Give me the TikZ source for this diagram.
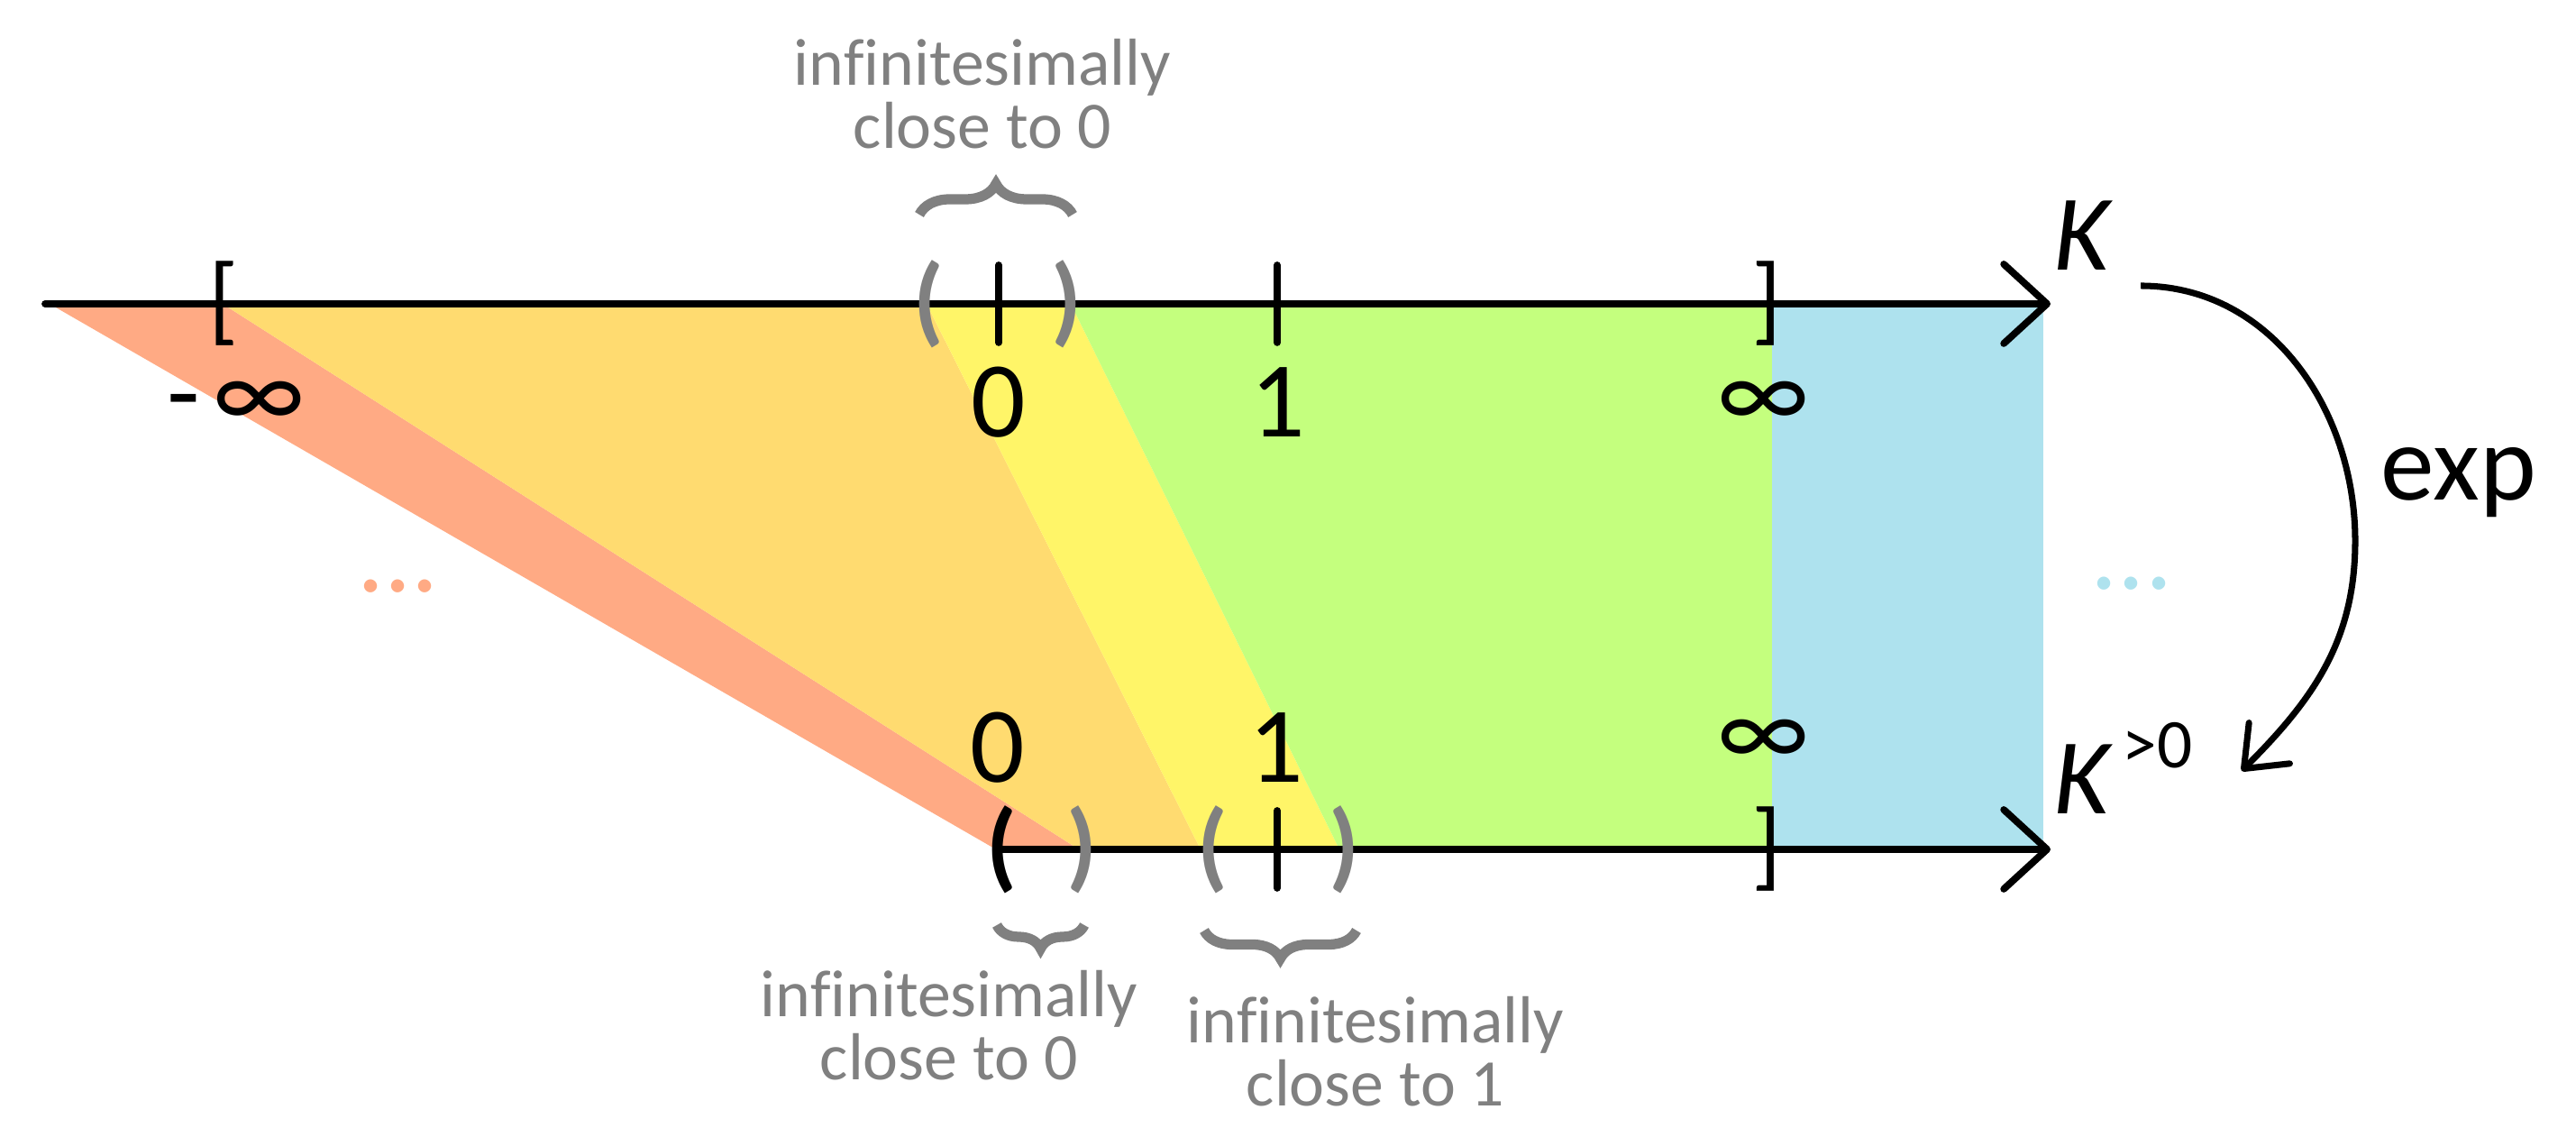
\documentclass[tikz,border=0pt]{standalone}
\usepackage{fontspec}
\setmainfont{Carlito}[Ligatures=CommonOff]
\usetikzlibrary{arrows.meta, decorations.pathreplacing}

\definecolor{salmon}{RGB}{255,170,132}
\definecolor{apricot}{RGB}{255,219,112}
\definecolor{lemon}{RGB}{255,245,104}
\definecolor{lime}{RGB}{196,255,126}
\definecolor{sky}{RGB}{174,226,238}
\definecolor{notegray}{RGB}{128,128,128}

\begin{document}
\begin{tikzpicture}[
      axis/.style={line width=2.2pt, line cap=round, -{Straight Barb[length=4.8mm, width=8.8mm, round]}},
      tick/.style={line width=2.2pt, line cap=round},
      num/.style={font=\fontsize{34}{40}\selectfont, inner sep=0pt},
      brk/.style={font=\fontsize{31}{31}\selectfont, inner sep=0pt},
      par/.style={font=\fontsize{31}{31}\selectfont\bfseries, inner sep=0pt},
      gpar/.style={par, text=notegray},
      note/.style={text=notegray, font=\fontsize{21}{20}\selectfont, align=center, inner sep=0pt},
      gbrace/.style={draw=notegray, line width=3.2pt, decorate, decoration={brace, amplitude=#1}},
      dots/.style={font=\fontsize{34}{40}\selectfont, inner sep=0pt}
    ]
    \useasboundingbox (0,0) rectangle (28.58,12.51);
    % coloured bands between the two lines
    \fill[salmon] (0.55,9.14) -- (2.47,9.14) -- (11.97,3.09) -- (11.05,3.09) -- cycle;
    \fill[apricot] (2.47,9.14) -- (10.28,9.14) -- (13.32,3.09) -- (11.97,3.09) -- cycle;
    \fill[lemon] (10.28,9.14) -- (11.88,9.14) -- (14.86,3.09) -- (13.32,3.09) -- cycle;
    \fill[lime] (11.88,9.14) -- (19.66,9.14) -- (19.66,3.09) -- (14.86,3.09) -- cycle;
    \fill[sky] (19.66,9.14) rectangle (22.67,3.09);
    % the two lines
    \coordinate (topL) at (0.50,9.14);
    \coordinate (topR) at (22.75,9.14);
    \coordinate (botL) at (11.05,3.09);
    \coordinate (botR) at (22.75,3.09);
    \draw[axis] (topL) -- (topR);
    \draw[axis] (botL) -- (botR);
    \foreach \x in {11.08,14.17}
      \draw[tick] (\x,8.71) -- (\x,9.57);
    \draw[tick] (14.17,2.66) -- (14.17,3.52);
    % brackets
    \node[brk] (lbTop) at (2.48,9.14) {[};
    \node[brk] (rbTop) at (19.60,9.14) {]};
    \node[brk] (rbBot) at (19.60,3.09) {]};
    \node[gpar] (lpZeroTop) at (10.30,9.14) {(};
    \node[gpar] (rpZeroTop) at (11.83,9.14) {)};
    \node[par] (lpZeroBot) at (11.11,3.09) {(};
    \node[gpar] (rpZeroBot) at (12.00,3.09) {)};
    \node[gpar] (lpOneBot) at (13.45,3.09) {(};
    \node[gpar] (rpOneBot) at (14.91,3.09) {)};
    % labels
    \node[num] (minusInf) at (2.62,8.02) {-\hspace{1.5mm}∞};
    \node[num] (zeroTop) at (11.08,8.05) {0};
    \node[num] (oneTop) at (14.18,8.05) {1};
    \node[num] (infTop) at (19.56,8.02) {∞};
    \node[num] (zeroBot) at (11.07,4.22) {0};
    \node[num] (oneBot) at (14.16,4.22) {1};
    \node[num] (infBot) at (19.56,4.27) {∞};
    \node[num, anchor=base west] (K) at (22.78,9.51) {\textit{K}};
    \node[num, anchor=base west] (Kpos) at (22.78,3.48) {\textit{K}\hspace{1mm}\raisebox{5.1mm}{\fontsize{22}{22}\selectfont >0}};
    \node[num, anchor=base west] (exp) at (26.41,6.96) {exp};
    \node[dots, text=salmon] (dotsL) at (4.42,6.01) {...};
    \node[dots, text=sky] (dotsR) at (23.65,6.04) {...};
    % exp map
    \coordinate (expFrom) at (23.75,9.34);
    \coordinate (expMid) at (26.13,6.51);
    \coordinate (expTo) at (24.87,3.96);
    \draw[line width=2pt, -{Straight Barb[length=4mm, width=6.4mm, round]}]
      (expFrom) to[out=0, in=90] (expMid) to[out=-90, in=45] (expTo);
    % infinitesimal neighbourhoods
    \draw[gbrace=3.4mm] (10.20,10.13) -- (11.90,10.13);
    \draw[gbrace=2.6mm] (12.03,2.25) -- (11.06,2.25);
    \draw[gbrace=3.1mm] (15.05,2.19) -- (13.36,2.19);
    \node[note, anchor=base] (nearZeroTop) at (10.90,10.86) {infinitesimally\\close to 0};
    \node[note, anchor=base] (nearZeroBot) at (10.53,0.53) {infinitesimally\\close to 0};
    \node[note, anchor=base] (nearOneBot) at (15.26,0.24) {infinitesimally\\close to 1};
\end{tikzpicture}
\end{document}
